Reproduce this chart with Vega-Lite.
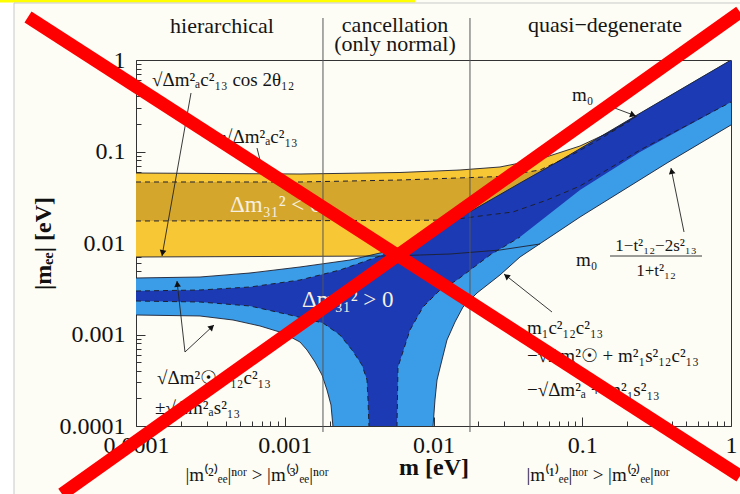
{
  "$schema": "https://vega.github.io/schema/vega-lite/v6.json",
  "width": 595,
  "height": 366,
  "autosize": {"type": "none"},
  "padding": {"left": 136, "top": 60, "right": 9, "bottom": 68},
  "background": "#fdfdf6",
  "config": {
    "view": {"stroke": "#333", "strokeWidth": 1},
    "axis": {
      "labelFont": "Liberation Serif",
      "labelFontSize": 24,
      "labelColor": "#111",
      "titleFont": "Liberation Serif",
      "titleFontSize": 24,
      "titleFontWeight": "bold",
      "titleColor": "#111",
      "tickColor": "#333",
      "tickWidth": 1,
      "grid": false,
      "domain": false,
      "labelOverlap": false,
      "labelFlush": false,
      "zindex": 1
    },
    "text": {"font": "Liberation Serif"}
  },
  "datasets": {
    "margin": [{"m": 1e-6, "m2": 1.513e-5, "v": 100, "v2": 1e-7}],
    "strip": [{"m": 1e-6, "m2": 0.007507, "v": 5.133, "v2": 4.25}],
    "border": [
      {"m": 1.513e-5, "v": 4.198, "m2": 1.149, "v2": 4.198},
      {"m": 1.513e-5, "v": 4.198, "m2": 1.513e-5, "v2": 1e-7}
    ],
    "ylight": [
      {"m": 0.0001, "v": 0.05821, "v2": 0.00703},
      {"m": 0.001266, "v": 0.05676, "v2": 0.007145},
      {"m": 0.005099, "v": 0.05873, "v2": 0.007208},
      {"m": 0.01291, "v": 0.06215, "v2": 0.007582},
      {"m": 0.02799, "v": 0.06771, "v2": 0.008383},
      {"m": 0.052, "v": 0.08279, "v2": 0.01078},
      {"m": 0.09658, "v": 0.1148, "v2": 0.02023},
      {"m": 0.1537, "v": 0.1633, "v2": 0.03206},
      {"m": 0.2334, "v": 0.2443, "v2": 0.04843},
      {"m": 0.3713, "v": 0.3912, "v2": 0.07678},
      {"m": 1, "v": 1, "v2": 0.1973}
    ],
    "ydark": [
      {"m": 0.0001, "v": 0.04642, "v2": 0.0174},
      {"m": 0.001266, "v": 0.04642, "v2": 0.01753},
      {"m": 0.005953, "v": 0.0488, "v2": 0.01762},
      {"m": 0.01291, "v": 0.05105, "v2": 0.01784},
      {"m": 0.02055, "v": 0.05235, "v2": 0.01972},
      {"m": 0.02799, "v": 0.05329, "v2": 0.02101},
      {"m": 0.03423, "v": 0.05648, "v2": 0.02183},
      {"m": 0.052, "v": 0.06277, "v2": 0.02771},
      {"m": 0.05794, "v": 0.06822, "v2": 0.02951},
      {"m": 0.08272, "v": 0.08929, "v2": 0.03776},
      {"m": 0.09658, "v": 0.103, "v2": 0.04198},
      {"m": 0.1316, "v": 0.137, "v2": 0.05676},
      {"m": 0.2094, "v": 0.2154, "v2": 0.08929},
      {"m": 0.2334, "v": 0.2382, "v2": 0.09925},
      {"m": 0.2445, "v": 0.2622, "v2": 0.1038},
      {"m": 1, "v": 1, "v2": 0.3475}
    ],
    "blight": [
      {"m": 0.0001, "v": 0.004146, "v2": 0.001633},
      {"m": 0.0002693, "v": 0.00425, "v2": 0.001593},
      {"m": 0.0004489, "v": 0.004526, "v2": 0.00144},
      {"m": 0.0006817, "v": 0.00482, "v2": 0.001239},
      {"m": 0.0009732, "v": 0.005196, "v2": 0.001038},
      {"m": 0.001266, "v": 0.005467, "v2": 0.0008279},
      {"m": 0.001411, "v": 0.005606, "v2": 0.0006771},
      {"m": 0.001597, "v": 0.005764, "v2": 0.0005005},
      {"m": 0.00178, "v": 0.00591, "v2": 0.0003608},
      {"m": 0.001923, "v": 0.006015, "v2": 0.0002474},
      {"m": 0.002046, "v": 0.006092, "v2": 0.0001697},
      {"m": 0.00211, "v": 0.006138, "v2": 0.00009752},
      {"m": 0.002143, "v": 0.006153, "v2": 0.000001},
      {"m": 0.002746, "v": 0.006519, "v2": 0.000001},
      {"m": 0.00534, "v": 0.008383, "v2": 0.000001},
      {"m": 0.008112, "v": 0.01078, "v2": 0.000001},
      {"m": 0.00977, "v": 0.01279, "v2": 0.000001},
      {"m": 0.009922, "v": 0.01296, "v2": 0.00009752},
      {"m": 0.01023, "v": 0.01336, "v2": 0.0001924},
      {"m": 0.01056, "v": 0.01373, "v2": 0.0003183},
      {"m": 0.0114, "v": 0.01477, "v2": 0.0005263},
      {"m": 0.01232, "v": 0.01585, "v2": 0.0008709},
      {"m": 0.01395, "v": 0.01775, "v2": 0.00137},
      {"m": 0.01579, "v": 0.01988, "v2": 0.001998},
      {"m": 0.01961, "v": 0.0243, "v2": 0.002841},
      {"m": 0.02799, "v": 0.03389, "v2": 0.00447},
      {"m": 0.03815, "v": 0.04524, "v2": 0.00703},
      {"m": 0.07088, "v": 0.07973, "v2": 0.01373},
      {"m": 0.09658, "v": 0.1073, "v2": 0.01923},
      {"m": 0.1794, "v": 0.1943, "v2": 0.03591},
      {"m": 0.3713, "v": 0.3912, "v2": 0.07487},
      {"m": 0.619, "v": 0.6405, "v2": 0.1226},
      {"m": 1, "v": 1, "v2": 0.1949}
    ],
    "bdark": [
      {"m": 0.0001, "v": 0.002988, "v2": 0.002323},
      {"m": 0.0002693, "v": 0.003064, "v2": 0.002265},
      {"m": 0.0005839, "v": 0.003304, "v2": 0.002049},
      {"m": 0.001085, "v": 0.003805, "v2": 0.001633},
      {"m": 0.001266, "v": 0.003941, "v2": 0.001538},
      {"m": 0.001807, "v": 0.004549, "v2": 0.001336},
      {"m": 0.002351, "v": 0.005069, "v2": 0.0009874},
      {"m": 0.002832, "v": 0.005634, "v2": 0.0006771},
      {"m": 0.003306, "v": 0.006153, "v2": 0.0004642},
      {"m": 0.003572, "v": 0.006438, "v2": 0.0003183},
      {"m": 0.003629, "v": 0.006487, "v2": 0.0001924},
      {"m": 0.003685, "v": 0.006553, "v2": 0.00009752},
      {"m": 0.003743, "v": 0.006602, "v2": 0.000001},
      {"m": 0.004368, "v": 0.007208, "v2": 0.000001},
      {"m": 0.00534, "v": 0.008383, "v2": 0.000001},
      {"m": 0.005595, "v": 0.008618, "v2": 0.000001},
      {"m": 0.005682, "v": 0.008706, "v2": 0.00009752},
      {"m": 0.005771, "v": 0.008795, "v2": 0.0004413},
      {"m": 0.00695, "v": 0.009824, "v2": 0.00112},
      {"m": 0.0085, "v": 0.01125, "v2": 0.001998},
      {"m": 0.01106, "v": 0.01433, "v2": 0.003064},
      {"m": 0.01439, "v": 0.01825, "v2": 0.003941},
      {"m": 0.02398, "v": 0.02936, "v2": 0.007394},
      {"m": 0.03815, "v": 0.04524, "v2": 0.01163},
      {"m": 0.09658, "v": 0.1073, "v2": 0.03795},
      {"m": 0.2445, "v": 0.2622, "v2": 0.09875},
      {"m": 1, "v": 1, "v2": 0.3475}
    ],
    "solidCurves": [
      {"curve": "yTop", "m": 0.0001, "v": 0.05821},
      {"curve": "yTop", "m": 0.001266, "v": 0.05676},
      {"curve": "yTop", "m": 0.005953, "v": 0.05896},
      {"curve": "yTop", "m": 0.01507, "v": 0.06277},
      {"curve": "yTop", "m": 0.02799, "v": 0.06771},
      {"curve": "yTop", "m": 0.052, "v": 0.08279},
      {"curve": "yTop", "m": 0.09658, "v": 0.1148},
      {"curve": "yTop", "m": 0.1537, "v": 0.1633},
      {"curve": "yTop", "m": 0.2334, "v": 0.2443},
      {"curve": "yBot", "m": 0.0001, "v": 0.00703},
      {"curve": "yBot", "m": 0.005099, "v": 0.007208},
      {"curve": "yBot", "m": 0.01291, "v": 0.007582},
      {"curve": "yBot", "m": 0.02799, "v": 0.008383},
      {"curve": "yBot", "m": 0.052, "v": 0.009752},
      {"curve": "bTop", "m": 0.0001, "v": 0.004146},
      {"curve": "bTop", "m": 0.0002693, "v": 0.00425},
      {"curve": "bTop", "m": 0.0005839, "v": 0.004699},
      {"curve": "bTop", "m": 0.001266, "v": 0.005467},
      {"curve": "bTop", "m": 0.002746, "v": 0.006519},
      {"curve": "bTop", "m": 0.00534, "v": 0.008383},
      {"curve": "bTop", "m": 0.008112, "v": 0.01078},
      {"curve": "bTop", "m": 0.01291, "v": 0.01654},
      {"curve": "bTop", "m": 0.02055, "v": 0.02537},
      {"curve": "bTop", "m": 0.03815, "v": 0.04524},
      {"curve": "bTop", "m": 0.07088, "v": 0.07973},
      {"curve": "bTop", "m": 0.2334, "v": 0.2506},
      {"curve": "bTop", "m": 1, "v": 1},
      {"curve": "bBotL", "m": 0.0001, "v": 0.001633},
      {"curve": "bBotL", "m": 0.0002693, "v": 0.001593},
      {"curve": "bBotL", "m": 0.0004489, "v": 0.00144},
      {"curve": "bBotL", "m": 0.0006817, "v": 0.001239},
      {"curve": "bBotL", "m": 0.0009732, "v": 0.001038},
      {"curve": "bBotL", "m": 0.001266, "v": 0.0008279},
      {"curve": "bBotL", "m": 0.001411, "v": 0.0006771},
      {"curve": "bBotL", "m": 0.001597, "v": 0.0005005},
      {"curve": "bBotL", "m": 0.00178, "v": 0.0003608},
      {"curve": "bBotL", "m": 0.001923, "v": 0.0002474},
      {"curve": "bBotL", "m": 0.002046, "v": 0.0001697},
      {"curve": "bBotL", "m": 0.00211, "v": 0.00009752},
      {"curve": "bBotR", "m": 0.009922, "v": 0.00009752},
      {"curve": "bBotR", "m": 0.01023, "v": 0.0001924},
      {"curve": "bBotR", "m": 0.01056, "v": 0.0003183},
      {"curve": "bBotR", "m": 0.0114, "v": 0.0005263},
      {"curve": "bBotR", "m": 0.01232, "v": 0.0008709},
      {"curve": "bBotR", "m": 0.01395, "v": 0.00137},
      {"curve": "bBotR", "m": 0.01579, "v": 0.001998},
      {"curve": "bBotR", "m": 0.01961, "v": 0.002841},
      {"curve": "bBotR", "m": 0.02799, "v": 0.00447},
      {"curve": "bBotR", "m": 0.03815, "v": 0.00703},
      {"curve": "bBotR", "m": 0.09658, "v": 0.01923},
      {"curve": "bBotR", "m": 0.3713, "v": 0.07487},
      {"curve": "bBotR", "m": 1, "v": 0.1949}
    ],
    "dashedCurves": [
      {"curve": "ydUpper", "m": 0.0001, "v": 0.04642},
      {"curve": "ydUpper", "m": 0.001266, "v": 0.04642},
      {"curve": "ydUpper", "m": 0.005953, "v": 0.0488},
      {"curve": "ydUpper", "m": 0.02799, "v": 0.05329},
      {"curve": "ydUpper", "m": 0.052, "v": 0.06277},
      {"curve": "ydUpper", "m": 0.08272, "v": 0.08929},
      {"curve": "ydUpper", "m": 0.1316, "v": 0.137},
      {"curve": "ydUpper", "m": 0.2094, "v": 0.2154},
      {"curve": "ydLower", "m": 0.0001, "v": 0.0174},
      {"curve": "ydLower", "m": 0.005953, "v": 0.01762},
      {"curve": "ydLower", "m": 0.01291, "v": 0.01784},
      {"curve": "ydLower", "m": 0.02055, "v": 0.01972},
      {"curve": "ydLower", "m": 0.03423, "v": 0.02183},
      {"curve": "ydLower", "m": 0.05794, "v": 0.02951},
      {"curve": "ydLower", "m": 0.09658, "v": 0.04198},
      {"curve": "ydLower", "m": 0.2445, "v": 0.1038},
      {"curve": "ydLower", "m": 1, "v": 0.3475},
      {"curve": "bdUpper", "m": 0.0001, "v": 0.002988},
      {"curve": "bdUpper", "m": 0.0002693, "v": 0.003064},
      {"curve": "bdUpper", "m": 0.0005839, "v": 0.003304},
      {"curve": "bdUpper", "m": 0.001266, "v": 0.003941},
      {"curve": "bdUpper", "m": 0.002351, "v": 0.005069},
      {"curve": "bdUpper", "m": 0.004368, "v": 0.007208},
      {"curve": "bdUpper", "m": 0.00534, "v": 0.008383},
      {"curve": "bdLowerL", "m": 0.0001, "v": 0.002323},
      {"curve": "bdLowerL", "m": 0.0002693, "v": 0.002265},
      {"curve": "bdLowerL", "m": 0.0005839, "v": 0.002049},
      {"curve": "bdLowerL", "m": 0.001085, "v": 0.001633},
      {"curve": "bdLowerL", "m": 0.001807, "v": 0.001336},
      {"curve": "bdLowerL", "m": 0.002351, "v": 0.0009874},
      {"curve": "bdLowerL", "m": 0.002832, "v": 0.0006771},
      {"curve": "bdLowerL", "m": 0.003306, "v": 0.0004642},
      {"curve": "bdLowerL", "m": 0.003572, "v": 0.0003183},
      {"curve": "bdLowerL", "m": 0.003629, "v": 0.0001924},
      {"curve": "bdLowerL", "m": 0.003685, "v": 0.00009752},
      {"curve": "bdLowerR", "m": 0.005682, "v": 0.00009752},
      {"curve": "bdLowerR", "m": 0.005771, "v": 0.0004413},
      {"curve": "bdLowerR", "m": 0.00695, "v": 0.00112},
      {"curve": "bdLowerR", "m": 0.0085, "v": 0.001998},
      {"curve": "bdLowerR", "m": 0.01106, "v": 0.003064},
      {"curve": "bdLowerR", "m": 0.01439, "v": 0.003941},
      {"curve": "bdLowerR", "m": 0.02398, "v": 0.007394},
      {"curve": "bdLowerR", "m": 0.03815, "v": 0.01163}
    ],
    "dividers": [
      {"m": 0.001807, "v": 2.877, "m2": 0.001807, "v2": 0.000086},
      {"m": 0.01759, "v": 2.877, "m2": 0.01759, "v2": 0.000086}
    ],
    "pointers": [
      {"id": "a1", "m": 0.0002343, "v": 0.4358, "m2": 0.0001496, "v2": 0.007208},
      {"id": "a2", "m": 0.0006509, "v": 0.1092, "m2": 0.000703, "v2": 0.06603},
      {"id": "a3", "m": 0.0002135, "v": 0.0006437, "m2": 0.0001886, "v2": 0.003843},
      {"id": "a4", "m": 0.0002135, "v": 0.0006437, "m2": 0.0003345, "v2": 0.00127},
      {"id": "a5", "m": 0.1585, "v": 0.3064, "m2": 0.2298, "v2": 0.2443},
      {"id": "a6", "m": 0.4831, "v": 0.01319, "m2": 0.395, "v2": 0.06603},
      {"id": "a7", "m": 0.0626, "v": 0.001761, "m2": 0.02979, "v2": 0.004582},
      {"id": "fractionBar", "m": 0.1537, "v": 0.007208, "m2": 0.6383, "v2": 0.007208}
    ],
    "heads": [
      {"id": "h1", "m": 0.0001508, "v": 0.00777},
      {"id": "h3", "m": 0.0001895, "v": 0.003563},
      {"id": "h4", "m": 0.0003233, "v": 0.001208},
      {"id": "h5", "m": 0.2195, "v": 0.2506},
      {"id": "h6", "m": 0.3987, "v": 0.0612},
      {"id": "h7", "m": 0.0309, "v": 0.004357}
    ],
    "headings": [
      {"label": "hierarchical", "m": 0.0003786, "v": 1.973},
      {"label": "cancellation", "m": 0.00551, "v": 2.0},
      {"label": "(only normal)", "m": 0.00551, "v": 1.24},
      {"label": "quasi−degenerate", "m": 0.1422, "v": 2.023}
    ],
    "formulas": [
      {"label": "√Δm²ₐc²₁₃ cos 2θ₁₂", "m": 0.0001281, "v": 0.5197},
      {"label": "√Δm²ₐc²₁₃", "m": 0.0003786, "v": 0.1238},
      {"label": "m₀", "m": 0.08533, "v": 0.3563},
      {"label": "m₀", "m": 0.09078, "v": 0.005606},
      {"label": "m₁c²₁₂c²₁₃", "m": 0.04252, "v": 0.001013},
      {"label": "−√Δm²☉ + m²₁s²₁₂c²₁₃", "m": 0.04252, "v": 0.0005005},
      {"label": "−√Δm²ₐ + m²₁s²₁₃", "m": 0.04252, "v": 0.0002128},
      {"label": "√Δm²☉s²₁₂c²₁₃", "m": 0.0001384, "v": 0.0002877},
      {"label": "±√Δm²ₐs²₁₃", "m": 0.0001342, "v": 0.0001352}
    ],
    "fractions": [
      {"label": "1−t²₁₂−2s²₁₃", "m": 0.3132, "v": 0.008175},
      {"label": "1+t²₁₂", "m": 0.3132, "v": 0.004357}
    ],
    "bandNames": [
      {"label": "Δm₃₁² < 0", "m": 0.0004284, "v": 0.02183},
      {"label": "Δm₃₁² > 0", "m": 0.001306, "v": 0.001998}
    ],
    "notes": [
      {"label": "|m⁽²⁾ₑₑ|ⁿᵒʳ > |m⁽³⁾ₑₑ|ⁿᵒʳ", "m": 0.0006509, "v": 0.00002505},
      {"label": "|m⁽¹⁾ₑₑ|ⁿᵒʳ > |m⁽²⁾ₑₑ|ⁿᵒʳ", "m": 0.1276, "v": 0.00002505}
    ],
    "cross": [
      {"m": 0.00001879, "v": 2.951, "m2": 1.149, "v2": 0.00002842},
      {"m": 0.00003181, "v": 0.00001806, "m2": 1.149, "v2": 3.346}
    ]
  },
  "encoding": {
    "x": {
      "field": "m",
      "type": "quantitative",
      "title": "m [eV]",
      "scale": {"type": "log", "domain": [0.0001, 1], "nice": false},
      "axis": {
        "values": [0.0001, 0.0002, 0.0003, 0.0004, 0.0005, 0.0006, 0.0007, 0.0008, 0.0009,
                   0.001, 0.002, 0.003, 0.004, 0.005, 0.006, 0.007, 0.008, 0.009,
                   0.01, 0.02, 0.03, 0.04, 0.05, 0.06, 0.07, 0.08, 0.09,
                   0.1, 0.2, 0.3, 0.4, 0.5, 0.6, 0.7, 0.8, 0.9, 1],
        "labelExpr": "abs(log(datum.value)/LN10 - round(log(datum.value)/LN10)) < 0.001 ? format(datum.value, '~g') : ''",
        "tickSize": {"condition": {"test": "abs(log(datum.value)/LN10 - round(log(datum.value)/LN10)) < 0.001", "value": -9}, "value": -5},
        "labelPadding": 16,
        "titlePadding": -6
      }
    },
    "y": {
      "field": "v",
      "type": "quantitative",
      "title": "|mₑₑ| [eV]",
      "scale": {"type": "log", "domain": [0.0001, 1], "nice": false},
      "axis": {
        "values": [0.0001, 0.0002, 0.0003, 0.0004, 0.0005, 0.0006, 0.0007, 0.0008, 0.0009,
                   0.001, 0.002, 0.003, 0.004, 0.005, 0.006, 0.007, 0.008, 0.009,
                   0.01, 0.02, 0.03, 0.04, 0.05, 0.06, 0.07, 0.08, 0.09,
                   0.1, 0.2, 0.3, 0.4, 0.5, 0.6, 0.7, 0.8, 0.9, 1],
        "labelExpr": "abs(log(datum.value)/LN10 - round(log(datum.value)/LN10)) < 0.001 ? format(datum.value, '~g') : ''",
        "tickSize": {"condition": {"test": "abs(log(datum.value)/LN10 - round(log(datum.value)/LN10)) < 0.001", "value": -9}, "value": -5},
        "labelPadding": 20,
        "titlePadding": 4
      }
    }
  },
  "layer": [
    {
      "data": {"name": "margin"},
      "mark": {"type": "rect", "color": "#ffffff"},
      "encoding": {"x2": {"field": "m2"}, "y2": {"field": "v2"}}
    },
    {
      "data": {"name": "strip"},
      "mark": {"type": "rect", "color": "#ffff00"},
      "encoding": {"x2": {"field": "m2"}, "y2": {"field": "v2"}}
    },
    {
      "data": {"name": "border"},
      "mark": {"type": "rule", "color": "#c8c8c8", "strokeWidth": 1},
      "encoding": {"x2": {"field": "m2"}, "y2": {"field": "v2"}}
    },
    {
      "data": {"name": "ylight"},
      "mark": {"type": "area", "color": "#f8c736", "opacity": 1, "clip": true},
      "encoding": {"y2": {"field": "v2"}}
    },
    {
      "data": {"name": "ydark"},
      "mark": {"type": "area", "color": "#d5a62c", "opacity": 1, "clip": true},
      "encoding": {"y2": {"field": "v2"}}
    },
    {
      "data": {"name": "blight"},
      "mark": {"type": "area", "color": "#3b9ce8", "opacity": 1, "clip": true},
      "encoding": {"y2": {"field": "v2"}}
    },
    {
      "data": {"name": "bdark"},
      "mark": {"type": "area", "color": "#1b3ab4", "opacity": 1, "clip": true},
      "encoding": {"y2": {"field": "v2"}}
    },
    {
      "data": {"name": "solidCurves"},
      "mark": {"type": "line", "color": "#1e2030", "strokeWidth": 0.9, "clip": true},
      "encoding": {"detail": {"field": "curve"}}
    },
    {
      "data": {"name": "dashedCurves"},
      "mark": {"type": "line", "color": "#1e2030", "strokeWidth": 1, "strokeDash": [5, 4], "clip": true},
      "encoding": {"detail": {"field": "curve"}}
    },
    {
      "data": {"name": "dividers"},
      "mark": {"type": "rule", "color": "#555", "strokeWidth": 1},
      "encoding": {"x2": {"field": "m2"}, "y2": {"field": "v2"}}
    },
    {
      "data": {"name": "pointers"},
      "mark": {"type": "rule", "color": "#222", "strokeWidth": 0.9},
      "encoding": {"x2": {"field": "m2"}, "y2": {"field": "v2"}}
    },
    {
      "data": {"name": "heads"},
      "transform": [{"filter": "datum.id == 'h1'"}],
      "mark": {"type": "point", "shape": "triangle-up", "filled": true, "color": "#111", "opacity": 1, "size": 45, "angle": 190}
    },
    {
      "data": {"name": "heads"},
      "transform": [{"filter": "datum.id == 'h3'"}],
      "mark": {"type": "point", "shape": "triangle-up", "filled": true, "color": "#111", "opacity": 1, "size": 45, "angle": 354}
    },
    {
      "data": {"name": "heads"},
      "transform": [{"filter": "datum.id == 'h4'"}],
      "mark": {"type": "point", "shape": "triangle-up", "filled": true, "color": "#111", "opacity": 1, "size": 45, "angle": 47}
    },
    {
      "data": {"name": "heads"},
      "transform": [{"filter": "datum.id == 'h5'"}],
      "mark": {"type": "point", "shape": "triangle-up", "filled": true, "color": "#111", "opacity": 1, "size": 45, "angle": 110}
    },
    {
      "data": {"name": "heads"},
      "transform": [{"filter": "datum.id == 'h6'"}],
      "mark": {"type": "point", "shape": "triangle-up", "filled": true, "color": "#111", "opacity": 1, "size": 45, "angle": 348}
    },
    {
      "data": {"name": "heads"},
      "transform": [{"filter": "datum.id == 'h7'"}],
      "mark": {"type": "point", "shape": "triangle-up", "filled": true, "color": "#111", "opacity": 1, "size": 45, "angle": 308}
    },
    {
      "data": {"name": "headings"},
      "mark": {"type": "text", "align": "center", "baseline": "alphabetic", "fontSize": 22, "color": "#151515"},
      "encoding": {"text": {"field": "label"}}
    },
    {
      "data": {"name": "formulas"},
      "mark": {"type": "text", "align": "left", "baseline": "alphabetic", "fontSize": 19, "color": "#151515"},
      "encoding": {"text": {"field": "label"}}
    },
    {
      "data": {"name": "fractions"},
      "mark": {"type": "text", "align": "center", "baseline": "alphabetic", "fontSize": 17, "color": "#151515"},
      "encoding": {"text": {"field": "label"}}
    },
    {
      "data": {"name": "bandNames"},
      "mark": {"type": "text", "align": "left", "baseline": "alphabetic", "fontSize": 23, "color": "#f6f0e2"},
      "encoding": {"text": {"field": "label"}}
    },
    {
      "data": {"name": "notes"},
      "mark": {"type": "text", "align": "center", "baseline": "alphabetic", "fontSize": 19, "color": "#151515"},
      "encoding": {"text": {"field": "label"}}
    },
    {
      "data": {"name": "cross"},
      "mark": {"type": "rule", "color": "#ff0000", "strokeWidth": 13, "strokeCap": "butt"},
      "encoding": {"x2": {"field": "m2"}, "y2": {"field": "v2"}}
    }
  ]
}
